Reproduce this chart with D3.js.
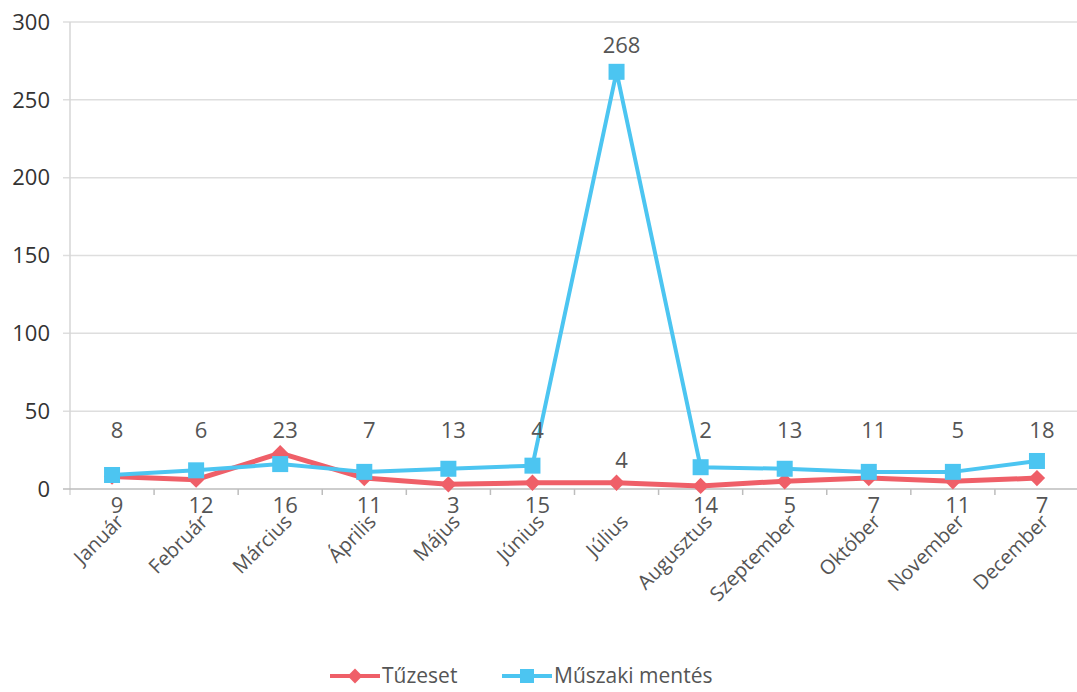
<!DOCTYPE html>
<html>
<head>
<meta charset="utf-8">
<script src="https://cdn.jsdelivr.net/npm/d3@7"></script>
<style>
  body { margin: 0; background: #fff; }
  svg text { font-family: "Open Sans", sans-serif; }
</style>
</head>
<body>
<div class="chart"></div>
<script>
const months = ["Január", "Február", "Március", "Április", "Május", "Június", "Július", "Augusztus", "Szeptember", "Október", "November", "December"];
const tuzeset = [8, 6, 23, 7, 3, 4, 4, 2, 5, 7, 5, 7];
const muszaki = [9, 12, 16, 11, 13, 15, 268, 14, 13, 11, 11, 18];
const yTicks = [0, 50, 100, 150, 200, 250, 300];
// where each data label sits: row of labels above the lines, row below, or next to the point
const tuzesetPlace = ["top", "top", "top", "top", "bottom", "top", "point", "top", "bottom", "bottom", "top", "bottom"];
const muszakiPlace = ["bottom", "bottom", "bottom", "bottom", "top", "bottom", "point", "bottom", "top", "top", "bottom", "top"];

const width = 1077, height = 692;
const margin = {left: 70, right: -2, top: 22, bottom: 203};
const red = "#ef5f68", blue = "#4cc5f1";

const svg = d3.select(".chart").append("svg")
    .attr("width", width)
    .attr("height", height);

const x = d3.scalePoint()
    .domain(months)
    .range([margin.left, width - margin.right])
    .padding(0.5);

const y = d3.scaleLinear()
    .domain([0, 300])
    .range([height - margin.bottom, margin.top]);

const step = x.step();

// gridlines
svg.append("g")
  .selectAll("line")
  .data(yTicks.filter(d => d > 0))
  .enter().append("line")
    .attr("x1", margin.left - 7)
    .attr("x2", width)
    .attr("y1", d => y(d))
    .attr("y2", d => y(d))
    .attr("stroke", "#dedede")
    .attr("stroke-width", 1.5);

// y axis line
svg.append("line")
    .attr("x1", margin.left).attr("x2", margin.left)
    .attr("y1", y(300)).attr("y2", y(0) + 6)
    .attr("stroke", "#d6d6d6")
    .attr("stroke-width", 1.5);

// y tick labels
svg.append("g")
  .selectAll("text")
  .data(yTicks)
  .enter().append("text")
    .attr("x", 50)
    .attr("y", d => y(d))
    .attr("dy", "0.35em")
    .attr("text-anchor", "end")
    .attr("font-size", 22)
    .attr("fill", "#333")
    .text(d => d);

// x axis with ticks at category boundaries
svg.append("line")
    .attr("x1", margin.left - 7).attr("x2", width)
    .attr("y1", y(0)).attr("y2", y(0))
    .attr("stroke", "#bdbdbd")
    .attr("stroke-width", 1.5);

svg.append("g")
  .selectAll("line")
  .data(months)
  .enter().append("line")
    .attr("x1", d => x(d) + step / 2)
    .attr("x2", d => x(d) + step / 2)
    .attr("y1", y(0))
    .attr("y2", y(0) + 6)
    .attr("stroke", "#bdbdbd")
    .attr("stroke-width", 1.5);

// category labels
svg.append("g")
  .selectAll("text")
  .data(months)
  .enter().append("text")
    .attr("transform", d => "translate(" + [x(d) + 8, y(0) + 29] + ") rotate(-45)")
    .attr("text-anchor", "end")
    .attr("dy", "0.35em")
    .attr("font-size", 20)
    .attr("fill", "#555")
    .text(d => d);

const line = d3.line()
    .x((d, i) => x(months[i]))
    .y(d => y(d));

// Tűzeset
svg.append("path")
    .datum(tuzeset)
    .attr("d", line)
    .attr("fill", "none")
    .attr("stroke", red)
    .attr("stroke-width", 5)
    .attr("stroke-linejoin", "round");

svg.append("g")
  .selectAll("path")
  .data(tuzeset)
  .enter().append("path")
    .attr("d", d3.symbol(d3.symbolDiamond2, 170))
    .attr("transform", (d, i) => "translate(" + [x(months[i]), y(d)] + ")")
    .attr("fill", red);

// Műszaki mentés
svg.append("path")
    .datum(muszaki)
    .attr("d", line)
    .attr("fill", "none")
    .attr("stroke", blue)
    .attr("stroke-width", 4)
    .attr("stroke-linejoin", "round");

svg.append("g")
  .selectAll("rect")
  .data(muszaki)
  .enter().append("rect")
    .attr("x", (d, i) => x(months[i]) - 8)
    .attr("y", d => y(d) - 8)
    .attr("width", 16)
    .attr("height", 16)
    .attr("fill", blue);

// data labels
function labelY(v, place){
  if (place === "top") return y(0) - 59;
  if (place === "bottom") return y(0) + 16;
  return y(v) - (v > 100 ? 27 : 22);
}

function addLabels(values, places){
  svg.append("g")
    .selectAll("text")
    .data(values)
    .enter().append("text")
      .attr("x", (d, i) => x(months[i]) + 5)
      .attr("y", (d, i) => labelY(d, places[i]))
      .attr("dy", "0.35em")
      .attr("text-anchor", "middle")
      .attr("font-size", 22)
      .attr("fill", "#555")
      .text(d => d);
}
addLabels(tuzeset, tuzesetPlace);
addLabels(muszaki, muszakiPlace);

// legend
const legend = [
  {name: "Tűzeset", color: red, x: 330, shape: "diamond"},
  {name: "Műszaki mentés", color: blue, x: 502, shape: "square"}
];

const lg = svg.append("g")
  .selectAll("g")
  .data(legend)
  .enter().append("g")
    .attr("transform", d => "translate(" + [d.x, 676] + ")");

lg.append("line")
    .attr("x1", 0).attr("x2", 50)
    .attr("stroke", d => d.color)
    .attr("stroke-width", 4);

lg.filter(d => d.shape === "diamond").append("path")
    .attr("d", d3.symbol(d3.symbolDiamond2, 140))
    .attr("transform", "translate(25,0)")
    .attr("fill", d => d.color);

lg.filter(d => d.shape === "square").append("rect")
    .attr("x", 18).attr("y", -7)
    .attr("width", 14).attr("height", 14)
    .attr("fill", d => d.color);

lg.append("text")
    .attr("x", 52)
    .attr("dy", "0.35em")
    .attr("font-size", 21)
    .attr("fill", "#555")
    .text(d => d.name);
</script>
</body>
</html>
